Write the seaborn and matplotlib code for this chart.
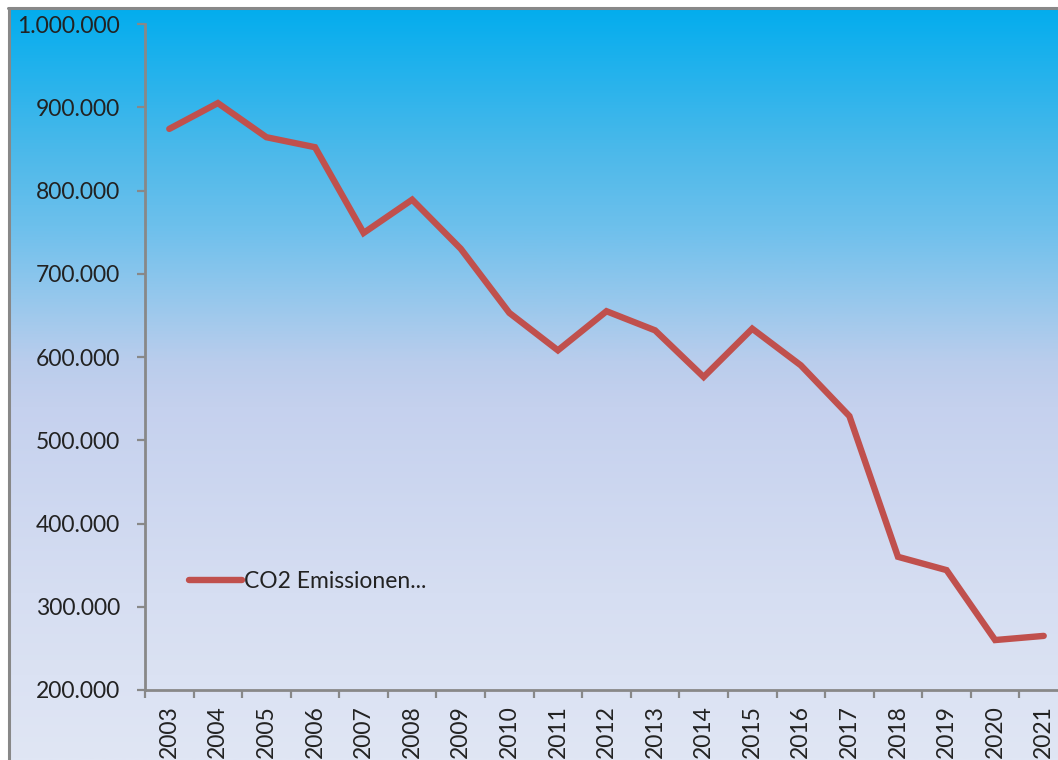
import numpy as np
import pandas as pd
import matplotlib
matplotlib.use("Agg")
import matplotlib.pyplot as plt
import seaborn as sns
from matplotlib.colors import LinearSegmentedColormap
from matplotlib.lines import Line2D
from matplotlib.ticker import FuncFormatter, FixedLocator

years = ["2003", "2004", "2005", "2006", "2007", "2008", "2009", "2010", "2011", "2012",
         "2013", "2014", "2015", "2016", "2017", "2018", "2019", "2020", "2021"]
emissions = [874000, 905000, 864000, 852000, 749000, 789000, 730000, 653000, 608000, 655000,
             632000, 576000, 634000, 590000, 529000, 360000, 344000, 260000, 265000]
series_name = "CO2 Emissionen..."
y_ticks = [200000, 300000, 400000, 500000, 600000, 700000, 800000, 900000, 1000000]

sns.set_style("white")
plt.rcParams['font.family'] = ['Lato', 'DejaVu Sans']

W, H = 1058, 760
fig = plt.figure(figsize=(W / 100, H / 100), dpi=100)
fig.patch.set_facecolor("white")

# gradient background of the chart area
bg = fig.add_axes([8 / W, 0, 1 - 8 / W, 1 - 8 / H], zorder=-2)
stops = [(0.0, "#03ADEE"), (0.19, "#4CB9EA"), (0.29, "#6DC0EC"), (0.39, "#98C8EC"),
         (0.47, "#BACDEC"), (0.53, "#C5D1EE"), (0.78, "#D6DEF2"), (1.0, "#E0E6F4")]
cmap = LinearSegmentedColormap.from_list("bg", stops)
grad = np.linspace(0, 1, 512).reshape(-1, 1)
bg.imshow(grad, aspect="auto", cmap=cmap, extent=[0, 1, 1, 0])
bg.set_axis_off()

fig.add_artist(Line2D([8 / W, 1], [1 - 8 / H, 1 - 8 / H], color="#888888", lw=2.2))
fig.add_artist(Line2D([9 / W, 9 / W], [0, 1 - 8 / H], color="#888888", lw=2.2))

ax = fig.add_axes([145 / W, 1 - 690 / H, (1068 - 145) / W, (690 - 24) / H])
ax.set_facecolor("none")

df = pd.DataFrame({"x": np.arange(len(years)), "value": emissions})
sns.lineplot(data=df, x="x", y="value", ax=ax, color="#C0504D", linewidth=4.6,
             label=series_name, solid_joinstyle="miter")

ax.set_xlim(-0.5, len(years) - 0.5)
ax.set_ylim(200000, 1000000)
ax.set_xlabel("")
ax.set_ylabel("")

ax.yaxis.set_major_locator(FixedLocator(y_ticks))
ax.yaxis.set_major_formatter(FuncFormatter(lambda v, p: f"{int(v):,}".replace(",", ".")))
ax.set_xticks(np.arange(len(years)))
ax.set_xticklabels(years, rotation=90)
ax.set_xticks(np.arange(len(years) + 1) - 0.5, minor=True)

FS = 16.5
ax.tick_params(axis="y", which="major", direction="out", length=6, width=1.6,
               color="#888888", labelsize=FS, labelcolor="#222222", pad=12, left=True)
ax.tick_params(axis="x", which="major", length=0, labelsize=FS, labelcolor="#222222", pad=11)
ax.tick_params(axis="x", which="minor", direction="out", length=6, width=1.6,
               color="#888888", bottom=True)

for s in ["top", "right"]:
    ax.spines[s].set_visible(False)
for s in ["left", "bottom"]:
    ax.spines[s].set_color("#888888")
    ax.spines[s].set_linewidth(2)

leg = ax.legend(loc="center left", bbox_to_anchor=(189 / W, 1 - 582 / H),
                bbox_transform=fig.transFigure, frameon=False, fontsize=FS,
                handlelength=2.3, handletextpad=0.1, borderaxespad=0, borderpad=0)
for t in leg.get_texts():
    t.set_color("#222222")

fig.savefig("out.png", dpi=100)
